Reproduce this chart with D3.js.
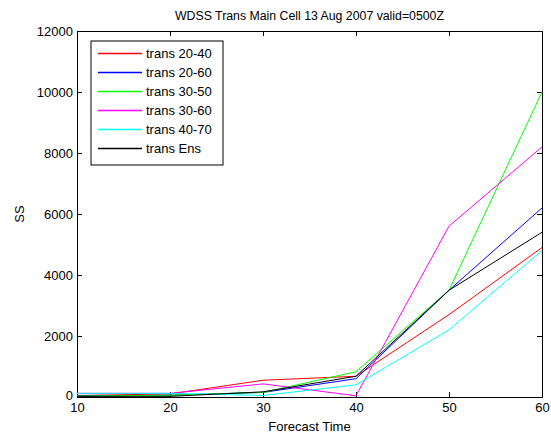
<!DOCTYPE html>
<html>
<head>
<meta charset="utf-8">
<script src="https://cdn.jsdelivr.net/npm/d3@7"></script>
<style>
  body { margin: 0; background: #fff; }
  text { font-family: "Liberation Sans", Arial, sans-serif; fill: #000; }
</style>
</head>
<body>
<div id="chart"></div>
<script>
// forecast times and skill score per transition
var times = [10, 20, 30, 40, 50, 60];
var seriesNames = ["trans 20-40", "trans 20-60", "trans 30-50", "trans 30-60", "trans 40-70", "trans Ens"];
var trans2040 = [50, 100, 550, 680, 2700, 4900];
var trans2060 = [40, 60, 150, 600, 3500, 6200];
var trans3050 = [30, 60, 150, 830, 3500, 10000];
var trans3060 = [120, 120, 430, 40, 5600, 8200];
var trans4070 = [120, 120, 50, 400, 2200, 4800];
var transEns = [20, 20, 170, 680, 3500, 5400];
var colors = ["#ff0000", "#0000ff", "#00ff00", "#ff00ff", "#00ffff", "#000000"];
var yTicks = [0, 2000, 4000, 6000, 8000, 10000, 12000];

var allSeries = [trans2040, trans2060, trans3050, trans3060, trans4070, transEns];

var W = 551, H = 438;
var margin = {top: 31, right: 9, bottom: 41, left: 77};
var width = W - margin.left - margin.right,
    height = H - margin.top - margin.bottom;

var svg = d3.select("#chart")
  .append("svg")
    .attr("width", W)
    .attr("height", H);

var g = svg.append("g")
    .attr("transform", "translate(" + margin.left + "," + margin.top + ")");

var x = d3.scaleLinear().domain([10, 60]).range([0, width]);
var y = d3.scaleLinear().domain([0, 12000]).range([height, 0]);

// axes with inward ticks on all four sides
g.append("g")
  .attr("transform", "translate(0," + height + ")")
  .call(d3.axisBottom(x).tickValues(times).tickSize(-5).tickPadding(6).tickFormat(d3.format("d")));
g.append("g")
  .call(d3.axisTop(x).tickValues(times).tickSize(-5).tickFormat(""));
g.append("g")
  .attr("class", "yaxis")
  .call(d3.axisLeft(y).tickValues(yTicks).tickSize(-5).tickPadding(4).tickFormat(d3.format("d")));
g.append("g")
  .attr("transform", "translate(" + width + ",0)")
  .call(d3.axisRight(y).tickValues(yTicks).tickSize(-5).tickFormat(""));

g.selectAll(".domain").attr("stroke", "#000");
g.selectAll(".tick line").attr("stroke", "#000");
g.selectAll(".tick text").style("font-size", "13px");
// lift the "0" label a little so it sits clear of the "10"
g.selectAll(".yaxis .tick text").filter(function(d) { return d === 0; }).attr("dy", "0.2em");

var line = d3.line()
  .x(function(d, i) { return x(times[i]); })
  .y(function(d) { return y(d); });

g.selectAll(".series")
  .data(allSeries)
  .enter()
  .append("path")
  .attr("class", "series")
  .attr("d", line)
  .attr("fill", "none")
  .attr("stroke", function(d, i) { return colors[i]; })
  .attr("stroke-width", 1);

// title and axis labels
svg.append("text")
  .attr("x", margin.left + width / 2)
  .attr("y", 20)
  .attr("text-anchor", "middle")
  .style("font-size", "12.3px")
  .text("WDSS Trans Main Cell 13 Aug 2007 valid=0500Z");

svg.append("text")
  .attr("x", margin.left + width / 2)
  .attr("y", 431)
  .attr("text-anchor", "middle")
  .style("font-size", "13px")
  .text("Forecast Time");

svg.append("text")
  .attr("transform", "translate(24," + (margin.top + height / 2) + ") rotate(-90)")
  .attr("text-anchor", "middle")
  .style("font-size", "13px")
  .text("SS");

// legend
var legend = svg.append("g").attr("transform", "translate(91,41)");
legend.append("rect")
  .attr("width", 132)
  .attr("height", 124)
  .attr("fill", "#fff")
  .attr("stroke", "#000");

var rows = legend.selectAll(".row")
  .data(seriesNames)
  .enter()
  .append("g")
  .attr("class", "row")
  .attr("transform", function(d, i) { return "translate(0," + (12.5 + i * 19) + ")"; });

rows.append("line")
  .attr("x1", 7).attr("x2", 51)
  .attr("y1", 0).attr("y2", 0)
  .attr("stroke-width", 1.4)
  .attr("stroke", function(d, i) { return colors[i]; });

rows.append("text")
  .attr("x", 55)
  .attr("y", 4.5)
  .style("font-size", "13px")
  .text(function(d) { return d; });
</script>
</body>
</html>
